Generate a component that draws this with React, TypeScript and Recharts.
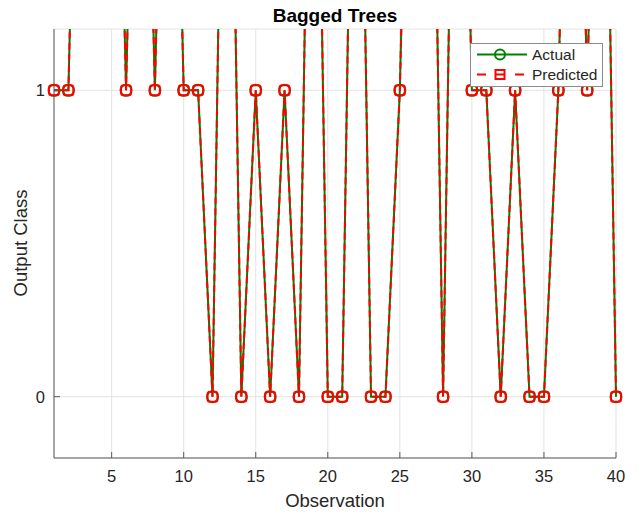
import React from "react";
import { CartesianGrid, Line, LineChart, Scatter, XAxis, YAxis } from "recharts";

const observations = [
  1, 2, 3, 4, 5, 6, 7, 8, 9, 10, 11, 12, 13, 14, 15, 16, 17, 18, 19, 20,
  21, 22, 23, 24, 25, 26, 27, 28, 29, 30, 31, 32, 33, 34, 35, 36, 37, 38, 39, 40,
];
const actualClass = [
  1, 1, 3, 3, 3, 1, 3, 1, 3, 1, 1, 0, 3, 0, 1, 0, 1, 0, 3, 0,
  0, 3, 0, 0, 1, 3, 3, 0, 3, 1, 1, 0, 1, 0, 0, 1, 3, 1, 3, 0,
];
const predictedClass = [
  1, 1, 3, 3, 3, 1, 3, 1, 3, 1, 1, 0, 3, 0, 1, 0, 1, 0, 3, 0,
  0, 3, 0, 0, 1, 3, 3, 0, 3, 1, 1, 0, 1, 0, 0, 1, 3, 1, 3, 0,
];
const xTicks = [5, 10, 15, 20, 25, 30, 35, 40];
const yTicks = [0, 1];
const yLimits: [number, number] = [-0.2, 1.2];

const data = observations.map((obs, i) => ({
  obs,
  actual: actualClass[i],
  predicted: predictedClass[i],
}));

// markers are not clipped in the original, so they go in their own series
// holding only the points that fall inside the y limits
const inView = (v: number) => v >= yLimits[0] && v <= yLimits[1];
const actualMarkers = observations
  .map((obs, i) => ({ obs, y: actualClass[i] }))
  .filter((d) => inView(d.y));
const predictedMarkers = observations
  .map((obs, i) => ({ obs, y: predictedClass[i] }))
  .filter((d) => inView(d.y));

const FONT = '"Liberation Sans", Arial, Helvetica, sans-serif';
const AXIS = "#5a5a5a";
const TEXT = "#262626";
const GREEN = "#008000";
const RED = "#ff0000";

const BottomTick = (props: any) => {
  const { x, y, payload } = props;
  return (
    <g>
      <line x1={x} x2={x} y1={y} y2={y - 6} stroke={AXIS} />
      <text x={x} y={y + 24} textAnchor="middle" fontSize={16.5} fill={TEXT} fontFamily={FONT}>
        {payload.value}
      </text>
    </g>
  );
};

const TopTick = (props: any) => {
  const { x, y } = props;
  return <line x1={x} x2={x} y1={y} y2={y + 6} stroke={AXIS} />;
};

const LeftTick = (props: any) => {
  const { x, y, payload } = props;
  return (
    <g>
      <line x1={x} x2={x + 6} y1={y} y2={y} stroke={AXIS} />
      <text x={x - 9} y={y + 6} textAnchor="end" fontSize={16.5} fill={TEXT} fontFamily={FONT}>
        {payload.value}
      </text>
    </g>
  );
};

const RightTick = (props: any) => {
  const { x, y } = props;
  return <line x1={x} x2={x - 6} y1={y} y2={y} stroke={AXIS} />;
};

const CircleMarker = (props: any) => (
  <circle cx={props.cx} cy={props.cy} r={5.5} fill="none" stroke={GREEN} strokeWidth={2} />
);

const SquareMarker = (props: any) => (
  <rect
    x={props.cx - 5}
    y={props.cy - 5}
    width={10}
    height={10}
    rx={2.5}
    fill="none"
    stroke={RED}
    strokeWidth={2}
  />
);

export default function App() {
  return (
    <div style={{ position: "absolute", left: 0, top: 0, width: 642, height: 515, background: "#fff" }}>
      <LineChart
        width={642}
        height={515}
        data={data}
        margin={{ top: 29, right: 26, bottom: 0, left: 0 }}
      >
        <CartesianGrid stroke="#e3e3e3" strokeWidth={1} />
        <XAxis
          dataKey="obs"
          type="number"
          domain={[1, 40]}
          ticks={xTicks}
          interval={0}
          height={57}
          tickSize={0}
          tickMargin={0}
          tick={<BottomTick />}
          axisLine={{ stroke: AXIS }}
        />
        <XAxis
          xAxisId="top"
          orientation="top"
          dataKey="obs"
          type="number"
          domain={[1, 40]}
          ticks={xTicks}
          interval={0}
          allowDataOverflow
          height={0}
          tickSize={0}
          tickMargin={0}
          tick={<TopTick />}
          axisLine={{ stroke: AXIS }}
        />
        <YAxis
          type="number"
          domain={yLimits}
          ticks={yTicks}
          interval={0}
          width={54}
          tickSize={0}
          tickMargin={0}
          tick={<LeftTick />}
          axisLine={{ stroke: AXIS }}
        />
        <YAxis
          yAxisId="right"
          orientation="right"
          type="number"
          domain={yLimits}
          ticks={yTicks}
          interval={0}
          allowDataOverflow
          width={0}
          tickSize={0}
          tickMargin={0}
          tick={<RightTick />}
          axisLine={{ stroke: AXIS }}
        />
        <YAxis yAxisId="clip" type="number" domain={yLimits} allowDataOverflow hide />
        <Line
          yAxisId="clip"
          type="linear"
          dataKey="actual"
          stroke={GREEN}
          strokeWidth={2}
          dot={false}
          activeDot={false}
          isAnimationActive={false}
        />
        <Scatter
          data={actualMarkers}
          dataKey="y"
          shape={<CircleMarker />}
          isAnimationActive={false}
        />
        <Line
          yAxisId="clip"
          type="linear"
          dataKey="predicted"
          stroke={RED}
          strokeWidth={2}
          strokeDasharray="7 4"
          dot={false}
          activeDot={false}
          isAnimationActive={false}
        />
        <Scatter
          data={predictedMarkers}
          dataKey="y"
          shape={<SquareMarker />}
          isAnimationActive={false}
        />
      </LineChart>
      <svg
        width={642}
        height={515}
        style={{ position: "absolute", left: 0, top: 0, pointerEvents: "none" }}
        fontFamily={FONT}
      >
        <text x={335} y={21.5} textAnchor="middle" fontSize={19} fontWeight="bold" fill="#000">
          Bagged Trees
        </text>
        <text x={335} y={506.5} textAnchor="middle" fontSize={18.5} fill={TEXT}>
          Observation
        </text>
        <text
          transform="rotate(-90)"
          x={-243}
          y={27}
          textAnchor="middle"
          fontSize={18.5}
          fill={TEXT}
        >
          Output Class
        </text>
        <g transform="translate(470,43)">
          <rect x={0.5} y={0.5} width={132} height={43} fill="#fff" stroke="#8c8c8c" />
          <line x1={7} x2={57} y1={11.5} y2={11.5} stroke={GREEN} strokeWidth={2} />
          <circle cx={30} cy={11.5} r={5} fill="none" stroke={GREEN} strokeWidth={2} />
          <text x={62} y={17} fontSize={15.5} fill={TEXT}>
            Actual
          </text>
          <line
            x1={7}
            x2={57}
            y1={31.5}
            y2={31.5}
            stroke={RED}
            strokeWidth={2}
            strokeDasharray="9 10"
          />
          <rect x={25.5} y={27} width={9} height={9} fill="none" stroke={RED} strokeWidth={2} />
          <text x={62} y={37} fontSize={15.5} fill={TEXT}>
            Predicted
          </text>
        </g>
      </svg>
    </div>
  );
}
